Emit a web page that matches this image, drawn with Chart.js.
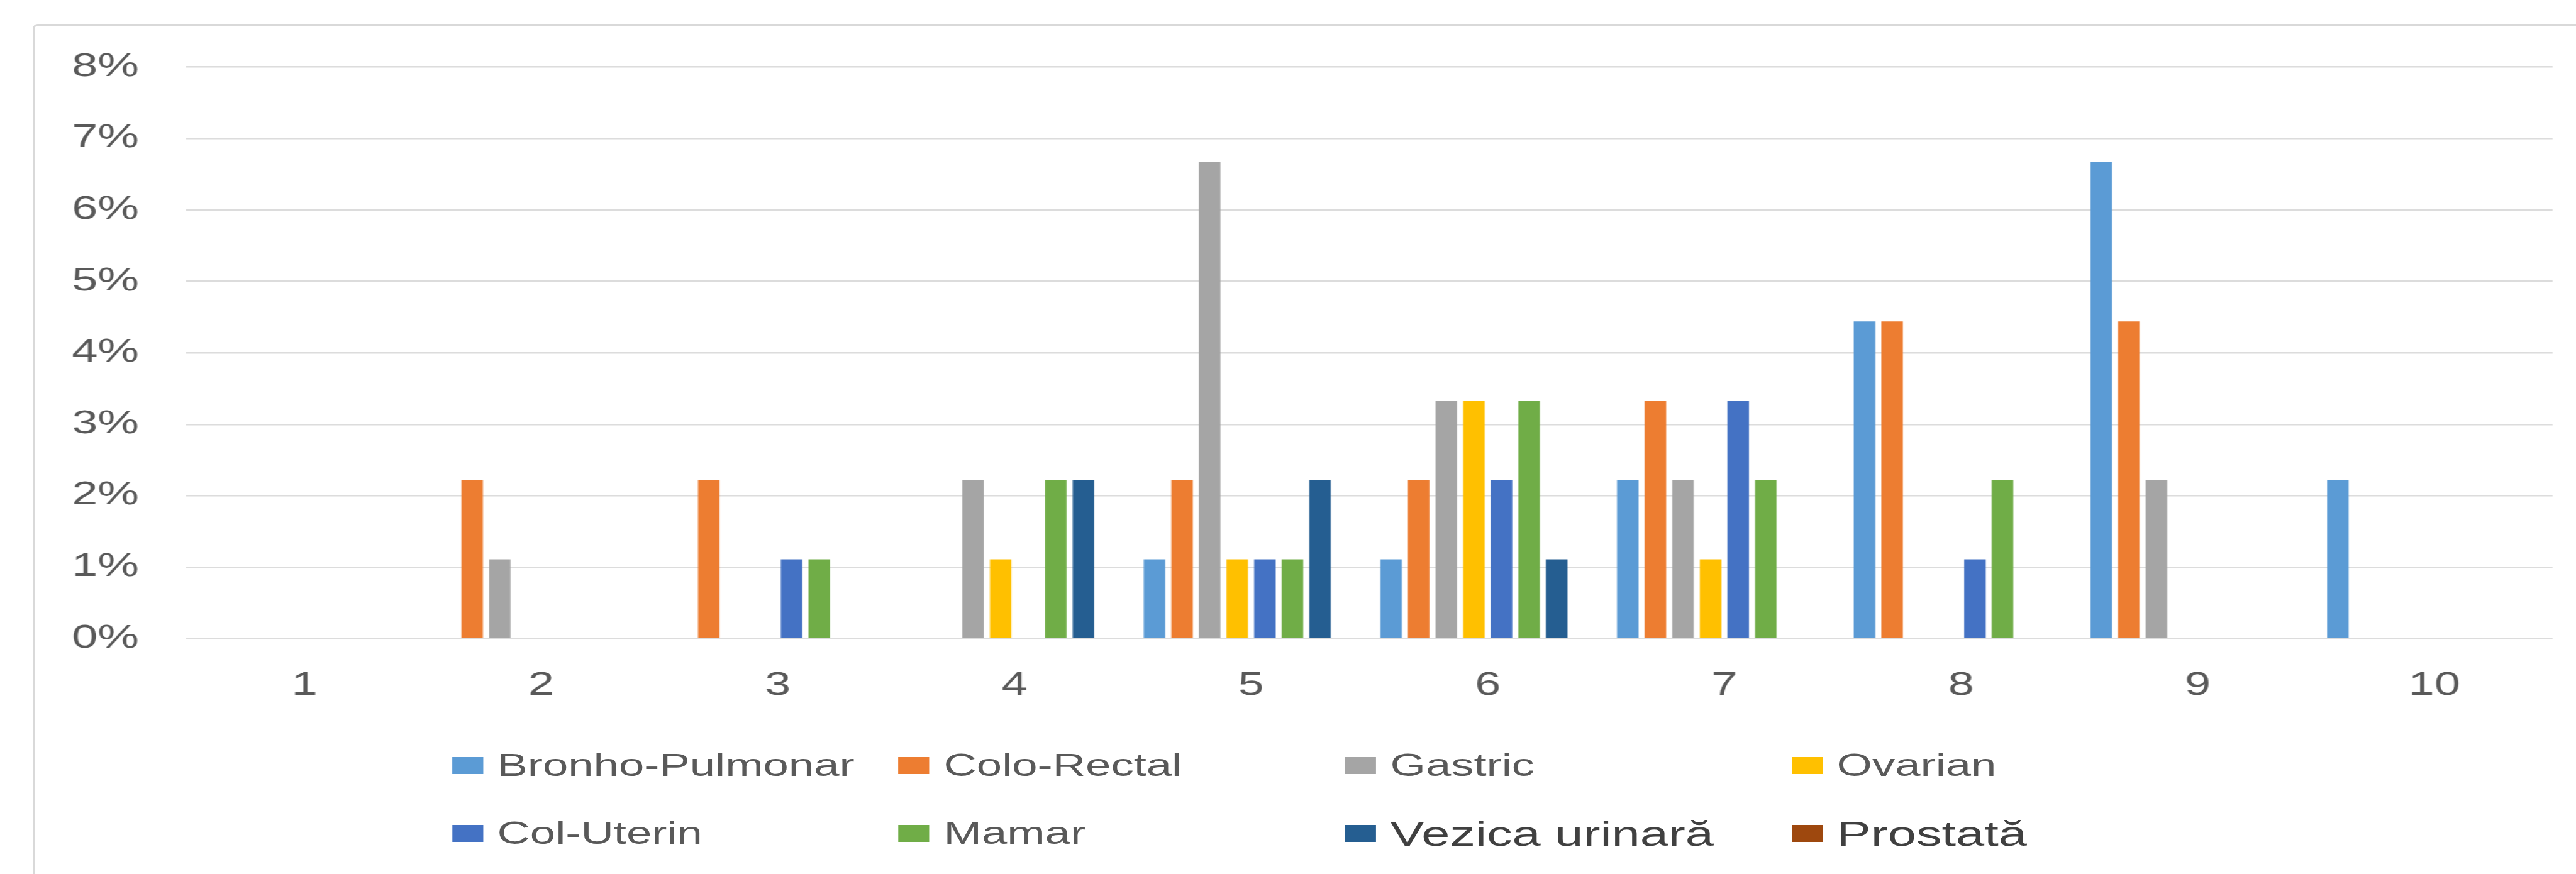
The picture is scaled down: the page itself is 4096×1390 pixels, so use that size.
<!DOCTYPE html>
<html lang="ro">
<head>
    <meta charset="UTF-8">
    <title>Tipuri de cancer pe categorii</title>
    <style>
        html, body { margin: 0; padding: 0; background: #fff; overflow: hidden; }
        body { width: 4096px; height: 1390px; position: relative; }
        /* chenarul graficului, ca in Excel */
        .cadru {
            position: absolute; left: 52px; top: 38px; width: 4100px; height: 1400px;
            border: 3px solid #d9d9d9; border-radius: 8px; box-sizing: border-box;
        }
        /* imaginea originala e intinsa pe orizontala, asa ca intindem si noi */
        .scena {
            position: absolute; left: 0; top: 0; width: 2825px; height: 1390px;
            transform: scaleX(1.4499); transform-origin: 0 0;
        }
        #grafic-box { position: absolute; left: 0; top: 0; width: 2825px; height: 1390px; }
        .leg-item {
            position: absolute; height: 70px; display: flex; align-items: center; white-space: nowrap;
            font-family: 'Liberation Sans', Arial, sans-serif; font-size: 50px; color: #595959;
        }
        .leg-item.mare { font-size: 56px; color: #404040; }
        .leg-box { width: 34px; height: 27px; margin-right: 15.5px; flex: none; }
    </style>
</head>
<body>
    <div class="cadru"></div>
    <div class="scena">
        <div id="grafic-box"><canvas id="grafic"></canvas></div>
        <div id="legenda"></div>
    </div>
    <script src="https://cdn.jsdelivr.net/npm/chart.js"></script>
    <script>
    // date (procente)
    const categorii = ['1', '2', '3', '4', '5', '6', '7', '8', '9', '10'];
    const eticheteY = ['0%', '1%', '2%', '3%', '4%', '5%', '6%', '7%', '8%'];
    const serii = ['Bronho-Pulmonar', 'Colo-Rectal', 'Gastric', 'Ovarian', 'Col-Uterin', 'Mamar', 'Vezica urinară', 'Prostată'];
    const bronhoPulmonar = [0, 0, 0, 0, 1.11, 1.11, 2.22, 4.44, 6.67, 2.22];
    const coloRectal     = [0, 2.22, 2.22, 0, 2.22, 2.22, 3.33, 4.44, 4.44, 0];
    const gastric        = [0, 1.11, 0, 2.22, 6.67, 3.33, 2.22, 0, 2.22, 0];
    const ovarian        = [0, 0, 0, 1.11, 1.11, 3.33, 1.11, 0, 0, 0];
    const colUterin      = [0, 0, 1.11, 0, 1.11, 2.22, 3.33, 1.11, 0, 0];
    const mamar          = [0, 0, 1.11, 2.22, 1.11, 3.33, 2.22, 2.22, 0, 0];
    const vezicaUrinara  = [0, 0, 0, 2.22, 2.22, 1.11, 0, 0, 0, 0];
    const prostata       = [0, 0, 0, 0, 0, 0, 0, 0, 0, 0];
    const culori = ['#5b9bd5', '#ed7d31', '#a5a5a5', '#ffc000', '#4472c4', '#70ad47', '#255e91', '#9e480e'];

    const valori = [bronhoPulmonar, coloRectal, gastric, ovarian, colUterin, mamar, vezicaUrinara, prostata];

    Chart.defaults.font.family = "'Liberation Sans', Arial, sans-serif";

    new Chart(document.getElementById('grafic'), {
        type: 'bar',
        data: {
            labels: categorii,
            datasets: serii.map((nume, i) => ({
                label: nume,
                data: valori[i],
                backgroundColor: culori[i],
                borderWidth: 0
            }))
        },
        options: {
            responsive: true,
            maintainAspectRatio: false,
            animation: false,
            layout: { padding: { left: 0, right: 25.5, top: 106.7, bottom: 224.4 } },
            datasets: { bar: { categoryPercentage: 0.933, barPercentage: 0.78 } },
            plugins: { legend: { display: false }, tooltip: { enabled: false } },
            scales: {
                x: {
                    grid: { display: false, drawTicks: false },
                    border: { display: false },
                    ticks: { padding: 44.8, color: '#595959', font: { size: 51 }, maxRotation: 0, autoSkip: false },
                    afterFit: (ax) => { ax.height = 150; }
                },
                y: {
                    min: 0,
                    max: 8,
                    grid: { color: '#dcdcdc', lineWidth: 2.5, drawTicks: false },
                    border: { display: false },
                    ticks: { stepSize: 1, padding: 51.7, color: '#595959', font: { size: 51 }, callback: (v) => eticheteY[v] },
                    afterFit: (ax) => { ax.width = 204.1; }
                }
            }
        }
    });

    // legenda pe 4 coloane, ca in original
    const legenda = document.getElementById('legenda');
    serii.forEach((nume, i) => {
        const col = i % 4;
        const rand = Math.floor(i / 4);
        const el = document.createElement('div');
        el.className = 'leg-item' + (i >= 6 ? ' mare' : '');
        el.style.left = (495.7 + col * 489.7) + 'px';
        el.style.top = ((rand === 0 ? 1217 : 1325) - 35) + 'px';
        const box = document.createElement('span');
        box.className = 'leg-box';
        box.style.background = culori[i];
        const txt = document.createElement('span');
        txt.textContent = nume;
        el.appendChild(box);
        el.appendChild(txt);
        legenda.appendChild(el);
    });
    </script>
</body>
</html>
